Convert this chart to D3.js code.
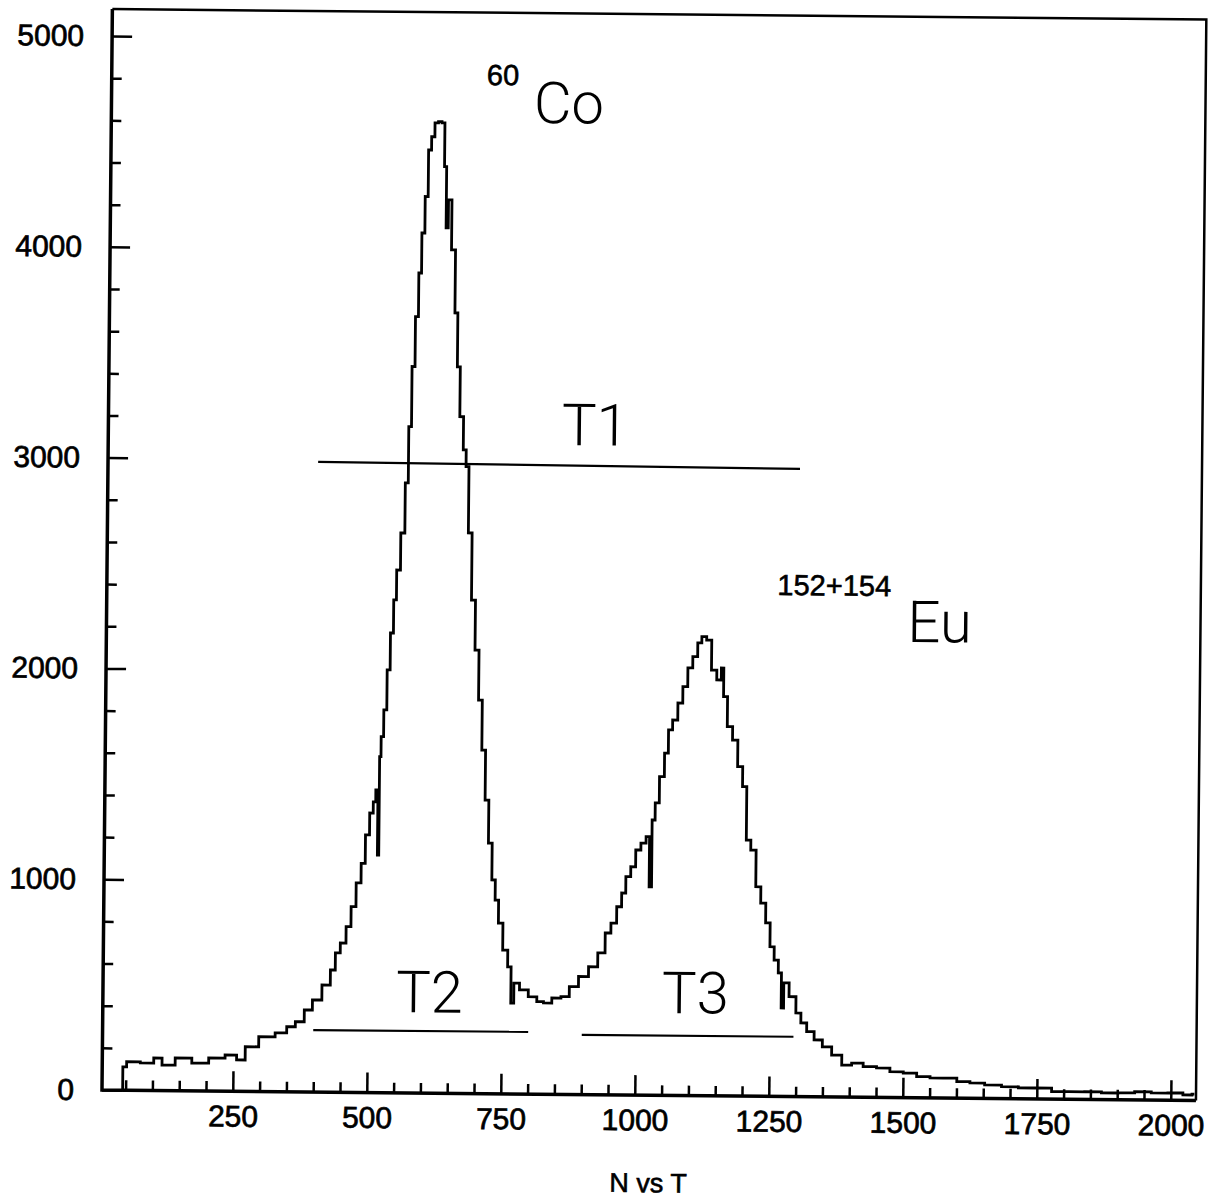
<!DOCTYPE html>
<html>
<head>
<meta charset="utf-8">
<script src="https://cdn.jsdelivr.net/npm/d3@7"></script>
<style>
  body { margin: 0; background: #fff; }
  .tick text { font-family: "Liberation Sans", Arial, sans-serif; font-size: 30px; fill: #000; stroke: #000; stroke-width: 0.7; }
  .note { font-family: "Liberation Sans", Arial, sans-serif; fill: #000; }
  .sup { stroke: #000; stroke-width: 0.6; }
  .thin { font-family: Roboto, "Open Sans", sans-serif; font-weight: 300; font-size: 58px; }
</style>
</head>
<body>
<div id="chart"></div>
<script>
// spectrum (channel, counts)
const channels = [
    44, 45, 58, 96, 108, 127, 157, 189, 220, 250, 263, 282, 313, 343, 356, 375,
    389, 405, 424, 436, 442, 454, 463, 472, 481, 490, 496, 505, 509, 514, 517, 519,
    522, 528, 533, 539, 544, 549, 558, 564, 569, 574, 580, 585, 590, 596, 601, 607,
    613, 620, 626, 631, 634, 639, 647, 654, 658, 665, 672, 676, 683, 690, 698, 705,
    712, 719, 726, 733, 739, 746, 756, 765, 769, 776, 790, 809, 822, 834, 853, 868,
    884, 902, 921, 936, 948, 957, 969, 975, 984, 993, 1002, 1012, 1021, 1025, 1030, 1036,
    1045, 1054, 1059, 1069, 1078, 1087, 1096, 1105, 1114, 1120, 1132, 1139, 1152, 1156, 1161, 1171,
    1181, 1191, 1200, 1207, 1217, 1227, 1236, 1246, 1253, 1262, 1269, 1274, 1278, 1294, 1304, 1313,
    1326, 1341, 1357, 1376, 1395, 1413, 1438, 1463, 1488, 1513, 1538, 1563, 1588, 1613, 1637, 1668,
    1700, 1731, 1762, 1793, 1824, 1855, 1886, 1917, 1948, 1979, 2010, 2035, 2044
];
const counts = [
    0, 111, 135, 130, 154, 121, 155, 132, 157, 172, 149, 212, 260, 279, 309, 333,
    389, 437, 508, 580, 661, 708, 786, 881, 994, 1087, 1222, 1326, 1379, 1436, 1127, 1594,
    1689, 1816, 2006, 2181, 2338, 2480, 2656, 2894, 3161, 3446, 3683, 3890, 4080, 4253, 4474, 4537,
    4603, 4609, 4603, 4396, 4105, 4238, 4001, 3702, 3447, 3210, 3053, 2974, 2659, 2341, 2104, 1867,
    1630, 1393, 1189, 1014, 919, 810, 682, 603, 431, 526, 494, 462, 439, 433, 457, 464,
    512, 560, 607, 673, 768, 815, 893, 958, 1036, 1083, 1163, 1196, 1227, 989, 1306, 1387,
    1512, 1624, 1734, 1781, 1862, 1940, 2029, 2083, 2148, 2178, 2162, 2020, 1973, 2030, 1894, 1752,
    1689, 1563, 1468, 1215, 1168, 994, 917, 823, 710, 647, 586, 420, 539, 474, 397, 350,
    309, 270, 238, 199, 152, 162, 146, 140, 123, 117, 101, 95, 95, 79, 73, 64,
    57, 52, 52, 36, 36, 37, 32, 33, 39, 34, 35, 26, 30
];

const x_ticks = [250, 500, 750, 1000, 1250, 1500, 1750, 2000];
const x_minor = [50, 100, 150, 200, 300, 350, 400, 450, 550, 600, 650, 700, 800, 850, 900, 950,
    1050, 1100, 1150, 1200, 1300, 1350, 1400, 1450, 1550, 1600, 1650, 1700, 1800, 1850, 1900, 1950];
const y_ticks = [0, 1000, 2000, 3000, 4000, 5000];
const y_minor = [200, 400, 600, 800, 1200, 1400, 1600, 1800, 2200, 2400, 2600, 2800,
    3200, 3400, 3600, 3800, 4200, 4400, 4600, 4800];

// window lines (channel from/to, counts at each end)
const gate_x1 = [398, 399, 900];
const gate_x2 = [1297, 800, 1295];
const gate_y1 = [2989, 294, 283];
const gate_y2 = [2978, 295, 284];

// labels placed in data units
const label_text = ['T1', 'T2', 'T3', 'Co', 'Eu'];
const label_x = [852, 553, 1049, 794, 1500];
const label_y = [3081, 383, 391, 4607, 2162];
const sup_text = ['60', '152+154'];
const sup_x = [706, 1257];
const sup_y = [4785, 2379];

const chart_width = 1214;
const chart_height = 1202;
const m_left = 102, m_right = 1196, m_top = 9, m_bottom = 1090;

const svg = d3.select('#chart')
    .append('svg')
    .attr('width', chart_width)
    .attr('height', chart_height)
    .style('background', '#fff');

// the scanned page sits a little tilted
const g = svg.append('g')
    .attr('transform', `rotate(0.55 ${m_left} ${m_bottom})`);

const x_scale = d3.scaleLinear().domain([6, 2047]).range([m_left, m_right]);
const y_scale = d3.scaleLinear().domain([0, 5128]).range([m_bottom, m_top]);

// axes, ticks pointing inward
function strip(sel) {
    sel.select('.domain').remove();
    sel.selectAll('.tick line').attr('stroke', '#000').attr('stroke-width', 2.5);
}

g.append('g')
    .attr('transform', `translate(0,${m_bottom})`)
    .call(d3.axisBottom(x_scale).tickValues(x_minor).tickSize(-10).tickFormat(''))
    .call(strip);

g.append('g')
    .attr('transform', `translate(0,${m_bottom})`)
    .call(d3.axisBottom(x_scale).tickValues(x_ticks).tickSize(-20).tickPadding(14).tickFormat(d3.format('d')))
    .call(strip);

g.append('g')
    .attr('transform', `translate(${m_left},0)`)
    .call(d3.axisLeft(y_scale).tickValues(y_minor).tickSize(-10).tickFormat(''))
    .call(strip);

g.append('g')
    .attr('transform', `translate(${m_left},0)`)
    .call(d3.axisLeft(y_scale).tickValues(y_ticks).tickSize(-20).tickPadding(28).tickFormat(d3.format('d')))
    .call(strip);

g.selectAll('g').attr('font-size', null).attr('font-family', null);

// frame
g.append('path')
    .attr('d', `M${m_left},${m_top}H${m_right}V${m_bottom}`)
    .attr('fill', 'none')
    .attr('stroke', '#000')
    .attr('stroke-width', 2.5);
g.append('path')
    .attr('d', `M${m_left},${m_top}V${m_bottom}H${m_right}`)
    .attr('fill', 'none')
    .attr('stroke', '#000')
    .attr('stroke-width', 3.5);

// spectrum, drawn as a histogram
const line = d3.line()
    .x(d => x_scale(d[0]))
    .y(d => y_scale(d[1]))
    .curve(d3.curveStep);

g.append('path')
    .datum(d3.zip(channels, counts))
    .attr('d', line)
    .attr('fill', 'none')
    .attr('stroke', '#000')
    .attr('stroke-width', 2.8);

// gate lines
g.selectAll('.gate')
    .data(d3.range(gate_x1.length))
    .enter()
    .append('line')
    .attr('class', 'gate')
    .attr('x1', i => x_scale(gate_x1[i]))
    .attr('x2', i => x_scale(gate_x2[i]))
    .attr('y1', i => y_scale(gate_y1[i]))
    .attr('y2', i => y_scale(gate_y2[i]))
    .attr('stroke', '#000')
    .attr('stroke-width', 2.2);

// labels
g.selectAll('.big')
    .data(label_text)
    .enter()
    .append('text')
    .attr('class', 'note thin')
    .attr('x', (d, i) => x_scale(label_x[i]))
    .attr('y', (d, i) => y_scale(label_y[i]))
    .text(d => d);

g.selectAll('.sup')
    .data(sup_text)
    .enter()
    .append('text')
    .attr('class', 'note sup')
    .attr('font-size', 29)
    .attr('x', (d, i) => x_scale(sup_x[i]))
    .attr('y', (d, i) => y_scale(sup_y[i]))
    .text(d => d);

// axis title
g.append('text')
    .attr('class', 'note sup')
    .attr('font-size', 27)
    .attr('text-anchor', 'middle')
    .attr('x', (m_left + m_right) / 2)
    .attr('y', m_bottom + 97)
    .text('N vs T');
</script>
</body>
</html>
